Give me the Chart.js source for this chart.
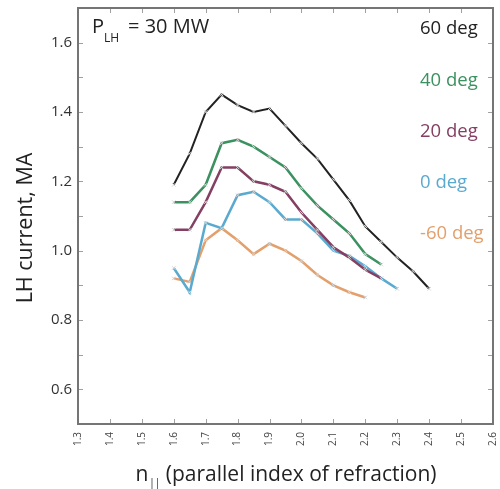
<!DOCTYPE html>
<html>
<head>
<meta charset="utf-8">
<script src="https://cdn.jsdelivr.net/npm/chart.js@4.4.1/dist/chart.umd.min.js"></script>
<style>
  html, body { margin: 0; padding: 0; background: #fff; }
  #wrap { width: 500px; height: 489px; }
</style>
</head>
<body>
<div id="wrap"><canvas id="grafica" width="500" height="489"></canvas></div>
<script>
/* Datos */

// n paralelo (eje x), de 1.6 a 2.4 cada 0.05
let nParalelo = [1.6, 1.65, 1.7, 1.75, 1.8, 1.85, 1.9, 1.95, 2.0, 2.05, 2.1, 2.15, 2.2, 2.25, 2.3, 2.35, 2.4];

// corriente LH en MA para cada ángulo
let corriente60 = [1.19, 1.28, 1.40, 1.45, 1.42, 1.40, 1.41, 1.36, 1.31, 1.265, 1.205, 1.145, 1.07, 1.025, 0.98, 0.94, 0.89];
let corriente40 = [1.14, 1.14, 1.19, 1.31, 1.32, 1.30, 1.27, 1.24, 1.18, 1.13, 1.09, 1.05, 0.99, 0.96];
let corriente20 = [1.06, 1.06, 1.14, 1.24, 1.24, 1.20, 1.19, 1.17, 1.11, 1.06, 1.01, 0.98, 0.945, 0.92];
let corriente0 = [0.95, 0.88, 1.08, 1.065, 1.16, 1.17, 1.14, 1.09, 1.09, 1.05, 1.00, 0.985, 0.955, 0.92, 0.89];
let corrienteM60 = [0.92, 0.91, 1.03, 1.065, 1.03, 0.99, 1.02, 1.00, 0.97, 0.93, 0.90, 0.88, 0.865];

let etiquetas = ['60 deg', '40 deg', '20 deg', '0 deg', '-60 deg'];
let colores = ['#222222', '#3b9160', '#843f63', '#5aaad0', '#e3a06c'];

let ticksX = [1.3, 1.4, 1.5, 1.6, 1.7, 1.8, 1.9, 2.0, 2.1, 2.2, 2.3, 2.4, 2.5, 2.6];

function puntos(valores) {
    return valores.map((v, i) => ({x: nParalelo[i], y: v}));
}

function serie(valores, i) {
    return {
        label: etiquetas[i],
        data: puntos(valores),
        borderColor: colores[i],
        borderWidth: i === 0 ? 2 : 2.5,
        pointStyle: 'crossRot',
        pointRadius: 2.5,
        pointBorderColor: '#d4d4d4',
        pointBorderWidth: 1,
        pointHoverRadius: 0,
        fill: false,
        tension: 0
    };
}

// quita el relleno extra que Chart.js deja para las etiquetas
function sinRelleno(s) {
    s.paddingTop = 0;
    s.paddingBottom = 0;
    s.paddingLeft = 0;
    s.paddingRight = 0;
}

// Marco, marcas hacia adentro y textos
const marcoPlugin = {
    id: 'marco',
    afterDraw(chart) {
        const c = chart.ctx;
        const a = chart.chartArea;
        const sx = chart.scales.x;
        const sy = chart.scales.y;
        c.save();
        c.strokeStyle = '#a0a0a0';
        c.lineWidth = 1;
        c.beginPath();
        for (let i = 0; i < sx.ticks.length; i++) {
            let px = Math.round(sx.getPixelForValue(sx.ticks[i].value)) + 0.5;
            c.moveTo(px, a.bottom); c.lineTo(px, a.bottom - 5);
            c.moveTo(px, a.top); c.lineTo(px, a.top + 5);
        }
        for (let i = 0; i < sy.ticks.length; i++) {
            let py = Math.round(sy.getPixelForValue(sy.ticks[i].value)) + 0.5;
            c.moveTo(a.left, py); c.lineTo(a.left + 5, py);
            c.moveTo(a.right, py); c.lineTo(a.right - 5, py);
        }
        c.stroke();
        c.strokeStyle = '#757575';
        c.lineWidth = 2;
        c.strokeRect(a.left, a.top, a.right - a.left, a.bottom - a.top);

        // Textos dentro del gráfico
        c.fillStyle = '#222';
        c.textBaseline = 'alphabetic';
        c.textAlign = 'left';
        c.font = '20px "Open Sans"';
        c.fillText('P', 92, 33);
        c.fillText('= 30 MW', 128, 33);
        c.font = '12px "Open Sans"';
        c.fillText('LH', 104, 42);

        let bases = [34, 86, 137, 188, 239];
        c.font = '18.5px "Open Sans"';
        etiquetas.forEach((e, i) => {
            c.fillStyle = colores[i];
            c.fillText(e, 420, bases[i]);
        });

        // Título eje y
        c.fillStyle = '#222';
        c.font = '21.5px "Open Sans"';
        c.save();
        c.translate(32, 228);
        c.rotate(-Math.PI / 2);
        c.textAlign = 'center';
        c.fillText('LH current, MA', 0, 0);
        c.restore();

        // Título eje x
        let resto = ' (parallel index of refraction)';
        c.font = '21px "Open Sans"';
        let wn = c.measureText('n').width;
        let wr = c.measureText(resto).width;
        c.font = '10px "Open Sans"';
        let ws = c.measureText('||').width;
        let x0 = (a.left + a.right) / 2 - (wn + ws + wr) / 2;
        c.font = '21px "Open Sans"';
        c.fillText('n', x0, 481);
        c.font = '10px "Open Sans"';
        c.fillText('||', x0 + wn + 1, 486);
        c.font = '21px "Open Sans"';
        c.fillText(resto, x0 + wn + ws + 1, 481);
        c.restore();
    }
};

let ctxGrafica = document.getElementById('grafica').getContext('2d');
let grafica = new Chart(ctxGrafica, {
    type: 'line',
    data: {
        datasets: [
            serie(corriente60, 0),
            serie(corriente40, 1),
            serie(corriente20, 2),
            serie(corriente0, 3),
            serie(corrienteM60, 4)
        ]
    },
    options: {
        responsive: false,
        animation: false,
        layout: { padding: { top: 8, right: 7, left: 0, bottom: 0 } },
        plugins: {
            legend: { display: false },
            tooltip: { enabled: false }
        },
        scales: {
            x: {
                type: 'linear',
                min: 1.3,
                max: 2.6,
                afterBuildTicks: (s) => { s.ticks = ticksX.map(v => ({value: v})); },
                afterFit: (s) => { s.height = 65; sinRelleno(s); },
                grid: { display: false, drawTicks: false },
                border: { display: false },
                ticks: {
                    autoSkip: false,
                    minRotation: 90,
                    maxRotation: 90,
                    padding: 8,
                    color: '#444',
                    font: { family: '"Open Sans"', size: 10 },
                    callback: (v) => v.toFixed(1)
                }
            },
            y: {
                min: 0.5,
                max: 1.7,
                afterFit: (s) => { s.width = 78; sinRelleno(s); },
                grid: { display: false, drawTicks: false },
                border: { display: false },
                ticks: {
                    stepSize: 0.1,
                    padding: 6,
                    color: '#333',
                    font: { family: '"Open Sans"', size: 15 },
                    callback: (v) => (Math.round(v * 10) % 2 === 0 ? v.toFixed(1) : '')
                }
            }
        }
    },
    plugins: [marcoPlugin]
});
</script>
</body>
</html>
